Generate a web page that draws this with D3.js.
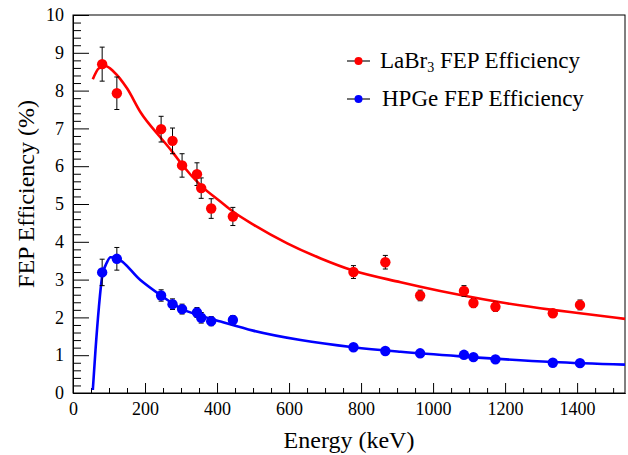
<!DOCTYPE html>
<html>
<head>
<meta charset="utf-8">
<script src="https://cdn.jsdelivr.net/npm/d3@7"></script>
<style>
  html, body { margin: 0; padding: 0; background: #fff; }
  svg, svg text { font-family: "Liberation Serif", "Times New Roman", Times, serif !important; }
  svg { display: block; }
</style>
</head>
<body>
<svg id="chart" width="628" height="455"></svg>
<script>
// Gamma-line energies (keV) of the calibration sources
const energies = [81.0, 121.8, 244.7, 276.4, 302.9, 344.3, 356.0, 383.8, 444.0,
                  778.9, 867.4, 964.1, 1085.8, 1112.1, 1173.2, 1332.5, 1408.0];

// Measured full-energy-peak efficiencies (%) and their uncertainties
const labrEff = [8.70, 7.93, 6.98, 6.67, 6.02, 5.79, 5.42, 4.88, 4.67,
                 3.20, 3.46, 2.58, 2.70, 2.38, 2.28, 2.11, 2.33];
const labrErr = [0.45, 0.43, 0.34, 0.34, 0.31, 0.30, 0.27, 0.26, 0.24,
                 0.17, 0.18, 0.14, 0.14, 0.12, 0.12, 0.10, 0.13];
const hpgeEff = [3.19, 3.55, 2.58, 2.35, 2.22, 2.13, 1.99, 1.90, 1.93,
                 1.21, 1.11, 1.05, 1.01, 0.95, 0.89, 0.80, 0.79];
const hpgeErr = [0.35, 0.30, 0.15, 0.14, 0.13, 0.13, 0.14, 0.12, 0.12,
                 0.05, 0.05, 0.05, 0.05, 0.04, 0.04, 0.04, 0.04];

// Fitted efficiency curves, [energy keV, efficiency %]
const labrFit = [[55, 8.30], [72, 8.59], [90, 8.65], [113, 8.50], [150, 8.06], [188, 7.42],
                 [243, 6.76], [276, 6.38], [302, 6.05], [356, 5.48], [410, 5.06], [444, 4.80],
                 [502, 4.45], [595, 3.96], [688, 3.56], [778, 3.24], [910, 2.93], [965, 2.81],
                 [1076, 2.59], [1187, 2.40], [1332, 2.20], [1408, 2.11], [1533, 1.96]];
const hpgeFit = [[55, 0.08], [62.5, 1.14], [72, 2.28], [81, 3.08], [95, 3.47], [104, 3.59],
                 [123, 3.56], [187, 2.99], [243, 2.59], [299, 2.24], [356, 2.04], [410, 1.89],
                 [500, 1.65], [632, 1.40], [778, 1.21], [910, 1.09], [1076, 0.97],
                 [1332, 0.82], [1533, 0.75]];

// Axis tick values
const xMajor = [0, 200, 400, 600, 800, 1000, 1200, 1400];
const yMajor = [0, 1, 2, 3, 4, 5, 6, 7, 8, 9, 10];

const series = [
  { name: "LaBr", sub: "3", rest: " FEP Efficiency", color: "#ff0000", eff: labrEff, err: labrErr, fit: labrFit },
  { name: "HPGe FEP Efficiency", sub: null, rest: "", color: "#0000ff", eff: hpgeEff, err: hpgeErr, fit: hpgeFit }
];

(function draw() {
  const svg = d3.select("#chart");
  const mLeft = 73, mRight = 625, mTop = 15, mBottom = 393;

  const x = d3.scaleLinear().domain([0, 1533]).range([mLeft, mRight]);
  const y = d3.scaleLinear().domain([0, 10]).range([mBottom, mTop]);

  const xMinor = d3.range(0, 1533, 50).filter(v => v % 200 !== 0);
  const yMinor = d3.range(0, 50, 1).map(v => v / 5).filter(v => v % 1 !== 0);

  // Frame
  svg.append("rect")
    .attr("x", mLeft).attr("y", mTop)
    .attr("width", mRight - mLeft).attr("height", mBottom - mTop)
    .attr("fill", "none").attr("stroke", "#000").attr("stroke-width", 1);

  // X axis (ticks point into the plot)
  const gx = svg.append("g").attr("transform", `translate(0,${mBottom})`);
  gx.call(d3.axisBottom(x).tickValues(xMajor).tickSizeInner(-10).tickSizeOuter(0).tickPadding(9)
    .tickFormat(d3.format("d")));
  gx.append("g").call(d3.axisBottom(x).tickValues(xMinor).tickSizeInner(-5).tickSizeOuter(0).tickFormat(""));

  // Y axis
  const gy = svg.append("g").attr("transform", `translate(${mLeft},0)`);
  gy.call(d3.axisLeft(y).tickValues(yMajor).tickSizeInner(-16).tickSizeOuter(0).tickPadding(9)
    .tickFormat(d3.format("d")));
  gy.append("g").call(d3.axisLeft(y).tickValues(yMinor).tickSizeInner(-8).tickSizeOuter(0).tickFormat(""));

  svg.selectAll("g").attr("font-family", null);
  svg.selectAll(".domain").attr("stroke", "#000");
  svg.selectAll(".tick line").attr("stroke", "#000");
  svg.selectAll(".tick text").attr("font-size", 18).attr("fill", "#000");

  // Axis titles
  svg.append("text")
    .attr("x", (mLeft + mRight) / 2).attr("y", 448)
    .attr("text-anchor", "middle").attr("font-size", 24)
    .text("Energy (keV)");
  svg.append("text")
    .attr("transform", "translate(34,194) rotate(-90)")
    .attr("text-anchor", "middle").attr("font-size", 24)
    .text("FEP Efficiency (%)");

  const line = d3.line().x(d => x(d[0])).y(d => y(d[1])).curve(d3.curveMonotoneX);

  series.forEach(s => {
    // fit curve
    svg.append("path").datum(s.fit)
      .attr("d", line).attr("fill", "none")
      .attr("stroke", s.color).attr("stroke-width", 2.6);

    const pts = energies.map((e, i) => ({ e, v: s.eff[i], d: s.err[i] }));
    const g = svg.append("g");
    // error bars
    pts.forEach(p => {
      const cx = x(p.e), y1 = y(p.v + p.d), y2 = y(p.v - p.d);
      g.append("line").attr("x1", cx).attr("x2", cx).attr("y1", y1).attr("y2", y2)
        .attr("stroke", "#000").attr("stroke-width", 1);
      [y1, y2].forEach(yy => g.append("line")
        .attr("x1", cx - 2.5).attr("x2", cx + 2.5).attr("y1", yy).attr("y2", yy)
        .attr("stroke", "#000").attr("stroke-width", 1));
    });
    // markers
    g.selectAll("circle").data(pts).join("circle")
      .attr("cx", p => x(p.e)).attr("cy", p => y(p.v)).attr("r", 5.2)
      .attr("fill", s.color);
  });

  // Legend
  const legY = [61, 99];
  series.forEach((s, i) => {
    const ly = legY[i];
    svg.append("line").attr("x1", 347).attr("x2", 370).attr("y1", ly).attr("y2", ly)
      .attr("stroke", "#444").attr("stroke-width", 1.5);
    svg.append("circle").attr("cx", 358.5).attr("cy", ly).attr("r", 4).attr("fill", s.color);
    const t = svg.append("text").attr("x", i === 0 ? 380 : 382).attr("y", ly + 7)
      .attr("font-size", 23).attr("fill", "#000");
    t.append("tspan").text(s.name);
    if (s.sub) {
      t.append("tspan").attr("font-size", 14).attr("dy", 4).text(s.sub);
      t.append("tspan").attr("dy", -4).text(s.rest);
    }
  });
})();
</script>
</body>
</html>
